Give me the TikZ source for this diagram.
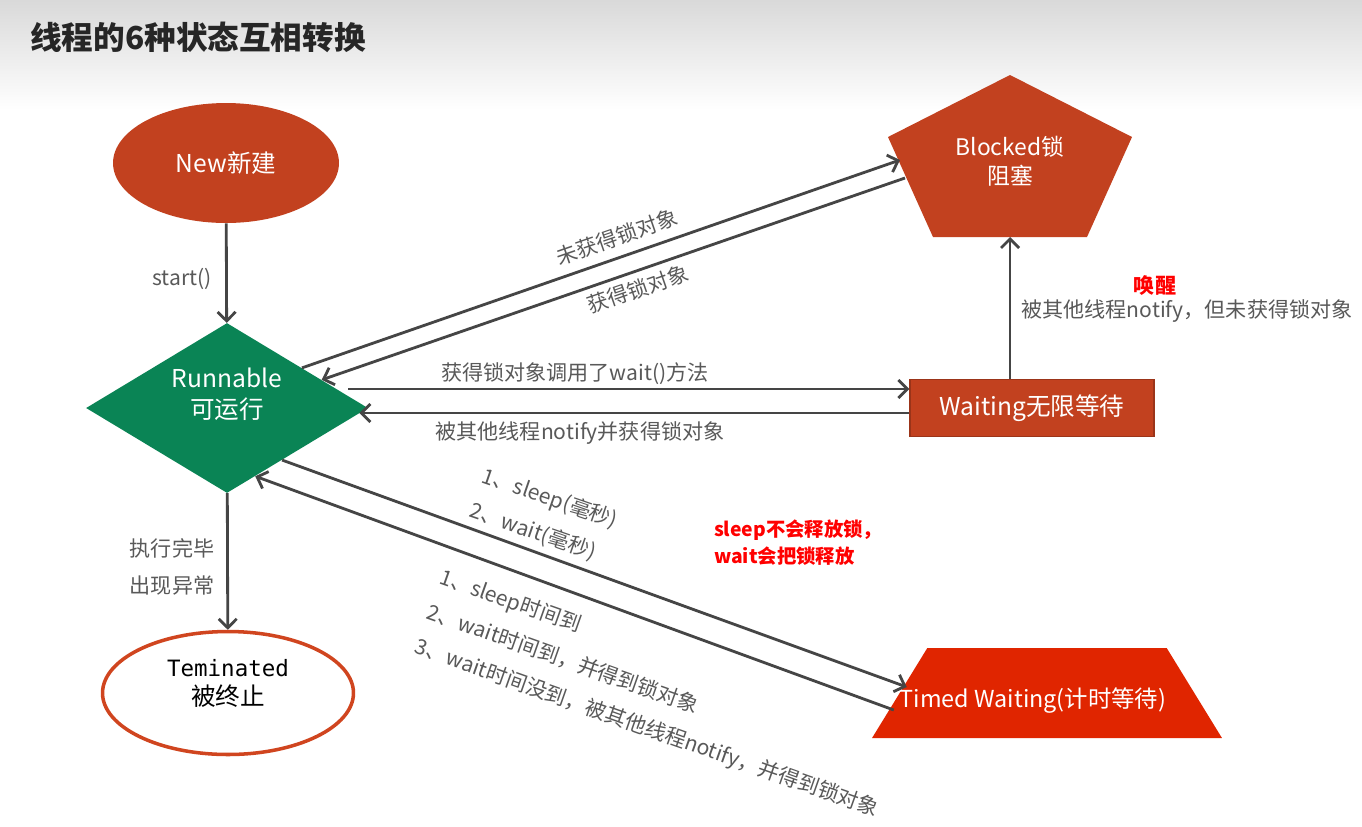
\documentclass[tikz,border=0pt]{standalone}
\usepackage{fontspec}
\setmainfont{Noto Sans CJK SC}
\newfontfamily\monofont{DejaVu Sans Mono}
\usepackage{xcolor}
\usetikzlibrary{shapes.geometric,arrows.meta,calc}

\definecolor{stateRed}{HTML}{C2411F}
\definecolor{timedRed}{HTML}{E02500}
\definecolor{runGreen}{HTML}{0A8455}
\definecolor{lineGray}{HTML}{454545}
\definecolor{labelGray}{HTML}{595959}
\definecolor{termRed}{HTML}{D0451F}
\definecolor{titleGray}{HTML}{D9D9D9}

\tikzset{
  statebox/.style  = {draw=none, fill=#1, inner sep=0pt, text=white,
                      font=\fontsize{14}{17.6}\selectfont, align=center},
  statebox/.default= stateRed,
  newbox/.style    = {statebox, ellipse, minimum width=4.52cm,
                      minimum height=2.4cm},
  runbox/.style    = {statebox=runGreen, diamond, minimum width=5.64cm,
                      minimum height=3.4cm},
  waitbox/.style   = {statebox, rectangle, draw=stateRed!80!black,
                      line width=0.8pt, minimum width=4.88cm,
                      minimum height=1.14cm},
  timedbox/.style  = {statebox=timedRed, trapezium, inner sep=3pt,
                      trapezium left angle=77, trapezium right angle=77,
                      trapezium stretches=true, minimum width=7cm,
                      minimum height=1.8cm},
  termbox/.style   = {ellipse, draw=termRed, line width=2pt, fill=white,
                      minimum width=5.02cm, minimum height=2.46cm},
  statetext/.style = {text=white, inner sep=0pt, align=center,
                      font=\fontsize{14}{17.6}\selectfont},
  edgelabel/.style = {text=labelGray, inner sep=1pt, align=left,
                      font=\fontsize{12}{21}\selectfont},
  notelabel/.style = {text=red, inner sep=1pt, align=left,
                      font=\bfseries\fontsize{11}{15.4}\selectfont},
  myarrow/.style   = {-{Straight Barb[length=1.8mm,width=3.6mm]},
                      line width=1.6pt, draw=lineGray},
}

\begin{document}
\begin{tikzpicture}[x=0.02cm, y=-0.02cm]

  %% ---- Page and title ----
  \useasboundingbox[fill=white] (0,0) rectangle (1362,826);
  \shade[top color=titleGray, bottom color=white] (0,0) rectangle (1362,110);
  \node[anchor=west, text=black!85, inner sep=0pt,
        font=\bfseries\fontsize{18}{22}\selectfont]
        (title) at (30,37) {线程的6种状态互相转换};

  %% ---- States ----
  \node[newbox]   (new)   at (226,163)  {New新建};
  \node[runbox]   (run)   at (227,408)  {};
  \node[statetext] (runtxt) at (227,394) {Runnable\\可运行};
  \node[waitbox]  (wait)  at (1032,408) {Waiting无限等待};
  \node[timedbox] (timed) at (1047,693) {};
  \node[statetext, font=\fontsize{13.3}{16}\selectfont]
        (timedtxt) at (1033,701) {Timed Waiting(计时等待)};
  \node[termbox]  (term)  at (228,693)  {};
  \node[inner sep=0pt, align=center, font=\fontsize{14}{16.5}\selectfont]
        (termtxt) at (228,683) {{\monofont\fontsize{12.8}{15}\selectfont Teminated}\\被终止};

  %% ---- Blocked (pentagon) ----
  \coordinate (blkTop)   at (1010,75);
  \coordinate (blkRight) at (1132,137);
  \coordinate (blkBR)    at (1087,237);
  \coordinate (blkBL)    at (933,237);
  \coordinate (blkLeft)  at (888,137);
  \fill[stateRed] (blkTop) -- (blkRight) -- (blkBR) -- (blkBL)
        -- (blkLeft) -- cycle;
  \node[statetext, font=\fontsize{13}{16.5}\selectfont]
        (blocked) at (1010,161) {Blocked锁\\阻塞};
  \coordinate (blkIn)    at (900,160);
  \coordinate (blkOut)   at (905,178);
  \coordinate (blkSouth) at (1010,237);

  %% ---- Arrows: new / terminated ----
  \draw[myarrow] (new) -- (run);
  \draw[myarrow] (run) -- (term);

  %% ---- Arrows: blocked ----
  \draw[myarrow] ($(run.north)!0.53!(run.east)$) -- (blkIn);
  \draw[myarrow] (blkOut) -- ($(run.north)!0.67!(run.east)$);

  %% ---- Arrows: waiting ----
  \draw[myarrow] ([xshift=-0.4cm,yshift=0.38cm]run.east)
        -- ([yshift=0.38cm]wait.west);
  \draw[myarrow] ([yshift=-0.1cm]wait.west)
        -- ([xshift=-0.18cm,yshift=-0.1cm]run.east);
  \draw[myarrow] (wait.north -| blkSouth) -- (blkSouth);

  %% ---- Arrows: timed waiting ----
  \draw[myarrow] ($(run.east)!0.61!(run.south)$)
        -- ([xshift=0.15cm,yshift=0.12cm]timed.west);
  \draw[myarrow] ([xshift=-0.11cm,yshift=-0.34cm]timed.west)
        -- ($(run.south)!0.2!(run.east)$);

  %% ---- Labels ----
  \node[edgelabel] (lblStart)  at (182,279) {start()};
  \node[edgelabel] (lblEnd)    at (172,567) {执行完毕\\出现异常};
  \node[edgelabel, rotate=19] (lblNoLock)  at (617,237) {未获得锁对象};
  \node[edgelabel, rotate=19] (lblGetLock) at (638,289) {获得锁对象};
  \node[edgelabel] (lblWait)   at (575,374) {获得锁对象调用了wait()方法};
  \node[edgelabel] (lblNotify) at (580,433) {被其他线程notify并获得锁对象};
  \node[notelabel, font=\bfseries\fontsize{12}{15}\selectfont]
        (lblWake)   at (1155,286) {唤醒};
  \node[edgelabel] (lblWakeNote) at (1187,311) {被其他线程notify，但未获得锁对象};
  \node[edgelabel, rotate=-19] (lblSleep) at (544,516)
        {1、sleep(毫秒)\\2、wait(毫秒)};
  \node[edgelabel, rotate=-19.5] (lblBack) at (659,694)
        {1、sleep时间到\\2、wait时间到，并得到锁对象\\3、wait时间没到，被其他线程notify，并得到锁对象};
  \node[notelabel, anchor=west] (lblNote) at (712,543)
        {sleep不会释放锁，\\wait会把锁释放};

\end{tikzpicture}
\end{document}
